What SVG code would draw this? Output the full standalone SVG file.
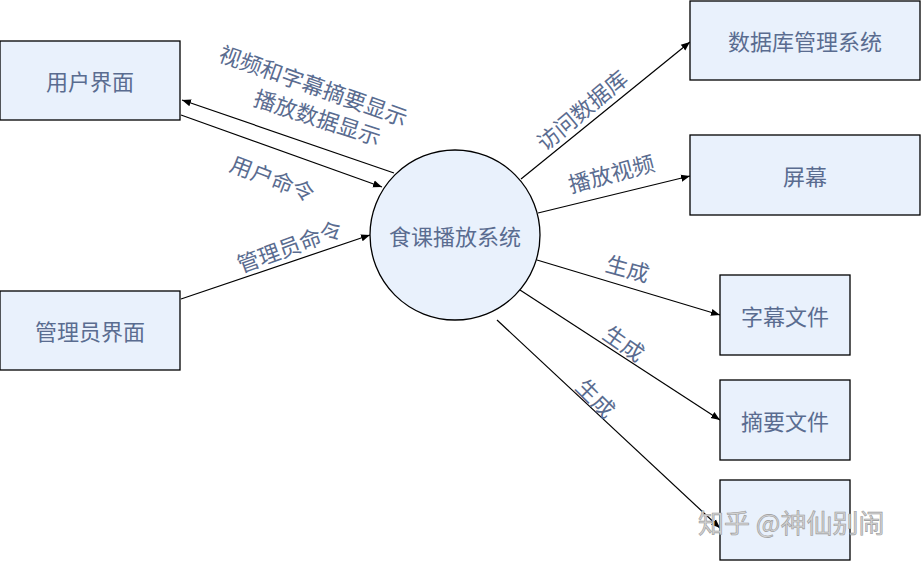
<svg xmlns="http://www.w3.org/2000/svg" width="921" height="561" viewBox="0 0 921 561">
<style>
.box{fill:#e9f1fc;stroke:#000;stroke-width:1.3}
.t{font-family:"Noto Sans CJK SC","Noto Sans",sans-serif;font-size:22px;fill:#5a6c90;text-anchor:middle;dominant-baseline:central}
.l{font-family:"Noto Sans CJK SC","Noto Sans",sans-serif;font-size:22px;fill:#5a6c90;text-anchor:middle;dominant-baseline:central}
.c{stroke:#000;stroke-width:1.2;fill:none;marker-end:url(#a)}
.wm{font-family:"Noto Sans CJK SC",sans-serif;font-size:26px;fill:#d4d4d4;stroke:#9a9a9a;stroke-width:0.6}
</style>
<defs>
<marker id="a" viewBox="0 0 10 10" refX="10" refY="5" markerWidth="9" markerHeight="9" markerUnits="userSpaceOnUse" orient="auto">
<path d="M0,1 L10,5 L0,9 Z" fill="#000"/>
</marker>
</defs>
<rect width="921" height="561" fill="#fff"/>
<g id="connectors">
<line class="c" x1="394" y1="173" x2="182" y2="100"/>
<line class="c" x1="181" y1="115" x2="382" y2="187"/>
<line class="c" x1="181" y1="299" x2="370" y2="235"/>
<line class="c" x1="521" y1="179" x2="690" y2="42"/>
<line class="c" x1="538" y1="213" x2="690" y2="176"/>
<line class="c" x1="537" y1="260" x2="720" y2="315"/>
<line class="c" x1="520" y1="290" x2="720" y2="420"/>
<line class="c" x1="497" y1="320" x2="720" y2="528"/>
</g>
<g id="labels">
<text class="l" transform="translate(314,84) rotate(19.5)">视频和字幕摘要显示</text>
<text class="l" transform="translate(318,116) rotate(18)">播放数据显示</text>
<text class="l" transform="translate(273,177) rotate(21)">用户命令</text>
<text class="l" transform="translate(289,245) rotate(-20)">管理员命令</text>
<text class="l" transform="translate(581,109) rotate(-40)">访问数据库</text>
<text class="l" transform="translate(611,172) rotate(-15)">播放视频</text>
<text class="l" transform="translate(628,267) rotate(15)">生成</text>
<text class="l" transform="translate(625,342) rotate(35)">生成</text>
<text class="l" transform="translate(597,397) rotate(45)">生成</text>
</g>
<g id="n-user"><rect class="box" x="0" y="41" width="180" height="79"/><text class="t" x="90" y="80">用户界面</text></g>
<g id="n-admin"><rect class="box" x="0" y="291" width="180" height="79"/><text class="t" x="90" y="330">管理员界面</text></g>
<g id="n-system"><circle cx="455" cy="235" r="85" fill="#e9f1fc" stroke="#000" stroke-width="1.3"/><text class="t" x="455" y="235">食课播放系统</text></g>
<g id="n-db"><rect class="box" x="690" y="1" width="230" height="79"/><text class="t" x="805" y="40">数据库管理系统</text></g>
<g id="n-screen"><rect class="box" x="690" y="135" width="230" height="80"/><text class="t" x="805" y="175">屏幕</text></g>
<g id="n-sub"><rect class="box" x="720" y="275" width="130" height="80"/><text class="t" x="785" y="315">字幕文件</text></g>
<g id="n-sum"><rect class="box" x="720" y="380" width="130" height="80"/><text class="t" x="785" y="420">摘要文件</text></g>
<g id="n-other"><rect class="box" x="720" y="480" width="130" height="80"/></g>
<text class="wm" x="698" y="533">知乎 @神仙别闹</text>
</svg>
